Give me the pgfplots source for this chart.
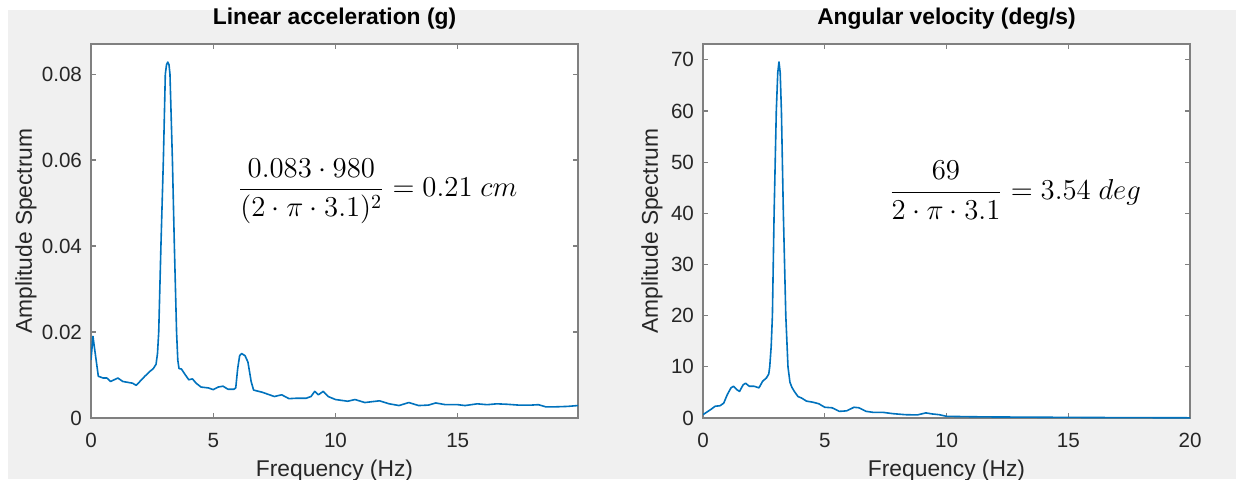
\documentclass[border=0pt]{standalone}
\usepackage{amsmath}
\usepackage[no-math]{fontspec}
\setmainfont{Liberation Sans}
\usepackage{pgfplots}
\pgfplotsset{compat=1.18}
\definecolor{mblue}{HTML}{0072BD}
\definecolor{figgray}{HTML}{F0F0F0}
\definecolor{axgray}{HTML}{808080}

% matlab-like panel
\pgfplotsset{mat/.style={
  scale only axis, width=243.5pt, height=187pt,
  axis line style={axgray, line width=0.6pt},
  tick style={axgray, line width=0.6pt},
  major tick length=2.5pt,
  tick align=inside,
  axis background/.style={fill=white},
  tick label style={font=\fontsize{10.3}{12}\selectfont, text=black!85},
  /pgf/number format/assume math mode=true,
  label style={font=\fontsize{11.4}{13}\selectfont, text=black!85},
  title style={font=\fontsize{11.4}{13}\selectfont\bfseries, anchor=base,
    at={(axis description cs:0.5,1)}, yshift=4pt},
  xlabel style={at={(axis description cs:0.5,0)}, anchor=base, yshift=-29pt},
  xticklabel style={anchor=base, yshift=-14.75pt},
  yticklabel style={xshift=-1pt},
  xlabel={Frequency (Hz)}, ylabel={Amplitude Spectrum},
  xmin=0, ymin=0,
}}

\begin{document}
\begin{tikzpicture}
\path[use as bounding box] (0,0) rectangle (618pt,239.5pt);
\fill[figgray] (4pt,0) rectangle (618pt,234.5pt);

\begin{axis}[mat, at={(45.5pt,30.5pt)}, anchor=south west,
  title={Linear acceleration (g)},
  xmax=19.92, ymax=0.087,
  xtick={0,5,10,15}, ytick={0,0.02,0.04,0.06,0.08},
  scaled y ticks=false,
  yticklabel style={/pgf/number format/.cd, fixed, precision=2},
  ylabel style={at={(axis description cs:0,0.5)}, anchor=center, yshift=32.5pt},
]
\addplot[mblue, line width=0.8pt, line join=round, no marks] coordinates {
(0,0.0135) (0.08,0.0190) (0.15,0.0160) (0.3,0.0097) (0.5,0.0093) (0.65,0.0093)
(0.8,0.0085) (1.1,0.0093) (1.3,0.0085) (1.5,0.0083) (1.7,0.0081) (1.85,0.0076)
(2.0,0.0085) (2.2,0.0097) (2.4,0.0108) (2.55,0.0115) (2.66,0.0125) (2.72,0.0150)
(2.77,0.0200) (2.86,0.0400) (2.96,0.0600) (3.04,0.0800) (3.09,0.0822) (3.14,0.0828)
(3.19,0.0822) (3.23,0.0800) (3.33,0.0600) (3.41,0.0400) (3.50,0.0200) (3.55,0.0135)
(3.6,0.0115) (3.7,0.0114) (3.85,0.0101) (4.0,0.0089)
(4.15,0.0091) (4.3,0.0081) (4.5,0.0072) (4.8,0.0070) (5.0,0.0066) (5.2,0.0072)
(5.4,0.0074) (5.6,0.0067) (5.85,0.0067) (5.92,0.0070) (6.0,0.0115) (6.08,0.0145)
(6.16,0.0150) (6.3,0.0145) (6.42,0.0130) (6.55,0.0085) (6.65,0.0065) (7.0,0.0060)
(7.3,0.0054) (7.5,0.0050)
(7.8,0.0054) (8.1,0.0045) (8.4,0.0046) (8.8,0.0046) (9.0,0.0050) (9.15,0.0062)
(9.3,0.0054) (9.5,0.0062) (9.7,0.0050) (10.0,0.0043) (10.5,0.0039) (10.8,0.0043)
(11.2,0.0036) (11.8,0.0040) (12.2,0.0033) (12.6,0.0029) (13.0,0.0036) (13.4,0.0029)
(13.8,0.0030) (14.1,0.0035) (14.5,0.0031) (15.0,0.0031) (15.3,0.0029) (15.8,0.0033)
(16.2,0.0031) (16.6,0.0033) (17.0,0.0032) (17.5,0.0030) (18.0,0.0030) (18.3,0.0031)
(18.6,0.0026) (19.0,0.0026) (19.5,0.0027) (19.92,0.0029)
};
\node[anchor=west, inner sep=0pt, font=\fontsize{14}{16}\selectfont]
  at (axis cs:6.0,0.0528) {$\dfrac{0.083\cdot 980}{(2\cdot\pi\cdot 3.1)^2}=0.21\ cm$};
\end{axis}

\begin{axis}[mat, at={(351.5pt,30.5pt)}, anchor=south west,
  title={Angular velocity (deg/s)},
  xmax=20, ymax=73.1,
  xtick={0,5,10,15,20}, ytick={0,10,...,70},
  ylabel style={at={(axis description cs:0,0.5)}, anchor=center, yshift=25.5pt},
]
\addplot[mblue, line width=0.8pt, line join=round, no marks] coordinates {
(0,0.65) (0.3,1.6) (0.5,2.3) (0.7,2.4) (0.85,2.9) (1.0,4.6) (1.15,5.9) (1.25,6.2)
(1.4,5.5) (1.5,5.2) (1.65,6.5) (1.75,6.8) (1.9,6.2) (2.1,6.2) (2.3,5.9) (2.45,7.2)
(2.6,7.8) (2.7,8.6) (2.74,10) (2.8,14) (2.85,20) (2.92,40) (3.01,60) (3.07,67.5)
(3.12,69.6) (3.17,67.5) (3.22,60) (3.30,40) (3.40,20) (3.49,10) (3.57,7)
(3.65,6.0) (3.75,5.2)
(3.9,4.2) (4.05,3.9) (4.25,3.3) (4.5,3.1) (4.75,2.8) (5.0,2.1) (5.3,2.0) (5.6,1.3)
(5.9,1.4) (6.2,2.1) (6.4,2.0) (6.7,1.3) (7.0,1.1) (7.4,1.1) (7.8,0.85) (8.3,0.65)
(8.8,0.6) (9.15,1.0) (9.4,0.8) (9.7,0.65) (10.0,0.33) (11,0.25) (12,0.2) (13,0.18)
(14,0.15) (15,0.12) (16,0.1) (17,0.08) (18,0.07) (19,0.05) (20,0.04)
};
\node[anchor=west, inner sep=0pt, font=\fontsize{14}{16}\selectfont]
  at (axis cs:7.63,44.5) {$\dfrac{69}{2\cdot\pi\cdot 3.1}=3.54\ deg$};
\end{axis}
\end{tikzpicture}
\end{document}
